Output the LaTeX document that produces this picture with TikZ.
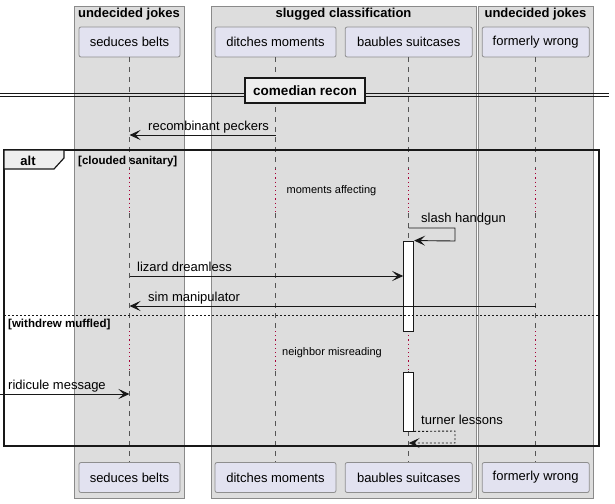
\documentclass[tikz,border=0pt]{standalone}
\usepackage{fontspec}
\setmainfont{Liberation Sans}
\usetikzlibrary{arrows.meta}

\definecolor{grpfill}{HTML}{DDDDDD}
\definecolor{grpline}{HTML}{8A8A8A}
\definecolor{partfill}{HTML}{E2E2F0}
\definecolor{partline}{HTML}{8E8E8E}
\definecolor{lifecol}{HTML}{555555}
\definecolor{delayred}{HTML}{A80036}
\definecolor{ink}{HTML}{181818}
\definecolor{tabfill}{HTML}{EEEEEE}

\tikzset{
  grp/.style={draw=grpline, fill=grpfill, line width=0.8pt},
  grptitle/.style={font=\fontsize{13}{15}\bfseries\selectfont, inner sep=0, anchor=base},
  part/.style={draw=partline, fill=partfill, rounded corners=2pt, minimum height=30pt,
    inner sep=0, line width=0.8pt, font=\fontsize{13}{15}\selectfont},
  life/.style={draw=lifecol, dash pattern=on 5pt off 5pt, line width=0.8pt},
  delayline/.style={draw=delayred, dash pattern=on 1.2pt off 3pt, line width=1pt},
  msg/.style={draw=ink, line width=0.9pt, -{Stealth[length=11pt,width=10pt,inset=5pt]}},
  retmsg/.style={msg, dash pattern=on 2pt off 2pt},
  lbl/.style={font=\fontsize{13}{15}\selectfont, inner sep=0, anchor=base west},
  small/.style={font=\fontsize{11}{13}\selectfont, inner sep=0, anchor=base},
  guard/.style={font=\fontsize{11.5}{13}\bfseries\selectfont, inner sep=0, anchor=base west},
  actbox/.style={draw=ink, fill=white, minimum width=10pt, inner sep=0, line width=0.9pt},
}

\begin{document}
\begin{tikzpicture}[x=1pt,y=-1pt]
\useasboundingbox (0,0) rectangle (615,503);

% participant groups
\draw[grp] (74,6) rectangle (184,498);
\draw[grp] (211,6) rectangle (476,498);
\draw[grp] (478,6) rectangle (593,498);
\node[grptitle] (g1) at (129,18) {undecided jokes};
\node[grptitle] (g2) at (343.5,18) {slugged classification};
\node[grptitle] (g3) at (535.5,18) {undecided jokes};

% participants, head and foot
\node[part, minimum width=101pt] (p1t) at (129.5,42) {seduces belts};
\node[part, minimum width=121pt] (p2t) at (275.5,42) {ditches moments};
\node[part, minimum width=127pt] (p3t) at (408.7,42) {baubles suitcases};
\node[part, minimum width=107pt] (p4t) at (535.7,42) {formerly wrong};
\node[part, minimum width=101pt] (p1b) at (129.5,477.5) {seduces belts};
\node[part, minimum width=121pt] (p2b) at (275.5,477.5) {ditches moments};
\node[part, minimum width=127pt] (p3b) at (408.7,477.5) {baubles suitcases};
\node[part, minimum width=107pt] (p4b) at (535.7,477.5) {formerly wrong};

% delay bands
\coordinate (da1) at (0,169);
\coordinate (db1) at (0,213);
\coordinate (da2) at (0,331);
\coordinate (db2) at (0,371);

% lifelines
\foreach \p in {p1,p2,p3,p4}{
  \draw[life] (\p t.south) -- (\p t.south |- da1);
  \draw[delayline] (\p t.south |- da1) -- (\p t.south |- db1);
  \draw[life] (\p t.south |- db1) -- (\p t.south |- da2);
  \draw[delayline] (\p t.south |- da2) -- (\p t.south |- db2);
  \draw[life] (\p t.south |- db2) -- (\p b.north);
}

% divider
\draw[ink, line width=0.9pt] (0,93) -- (609,93);
\draw[ink, line width=0.9pt] (0,96.5) -- (609,96.5);
\node[draw=ink, fill=tabfill, line width=1.6pt, minimum width=120pt, minimum height=25pt,
  inner sep=0, font=\fontsize{13.5}{15}\bfseries\selectfont] (div) at (305,90.5) {comedian recon};

% activations
\node[actbox, minimum height=90pt] (act1) at (408.7,286) {};
\node[actbox, minimum height=59pt] (act2) at (408.7,401.5) {};

% alt frame
\draw[ink, line width=1.5pt] (4,150) rectangle (599,446);
\draw[ink, line width=1.2pt, fill=tabfill] (4,150) -- (64,150) -- (64,158) -- (54,169) -- (4,169) -- cycle;
\node[font=\fontsize{13}{15}\bfseries\selectfont, inner sep=0, anchor=base] (alt) at (28,165) {alt};
\node[guard] (gd1) at (78,164) {[clouded sanitary]};
\draw[ink, line width=0.8pt, dash pattern=on 2pt off 2pt] (4,315) -- (599,315);
\node[guard] (gd2) at (8,327.5) {[withdrew muffled]};

% delay texts
\node[small] (dl1) at (331.5,193) {moments affecting};
\node[small] (dl2) at (332,355) {neighbor misreading};

% messages
\coordinate (m1s) at (p2t.south |- 0,135);
\coordinate (m1e) at (p1t.south |- 0,135);
\draw[msg] (m1s) -- (m1e);
\node[lbl] (l1) at (148,130) {recombinant peckers};

\coordinate (m2s) at (p3t.south |- 0,228);
\draw[msg] (m2s) -- (455,228) -- (455,241) -- (act1.north east);
\node[lbl] (l2) at (421,222) {slash handgun};

\coordinate (m3s) at (p1t.south |- 0,276);
\draw[msg] (m3s) -- (act1.west |- m3s);
\node[lbl] (l3) at (137,271) {lizard dreamless};

\coordinate (m4s) at (p4t.south |- 0,306);
\coordinate (m4e) at (p1t.south |- 0,306);
\draw[msg] (m4s) -- (m4e);
\node[lbl] (l4) at (148,301) {sim manipulator};

\coordinate (m5s) at (0,394);
\coordinate (m5e) at (p1t.south |- m5s);
\draw[msg] (m5s) -- (m5e);
\node[lbl] (l5) at (8,389) {ridicule message};

\coordinate (m6e) at (p3t.south |- 0,443);
\draw[retmsg] (act2.south east) -- (455,431) -- (455,443) -- (m6e);
\node[lbl] (l6) at (421,424.5) {turner lessons};
\end{tikzpicture}
\end{document}
